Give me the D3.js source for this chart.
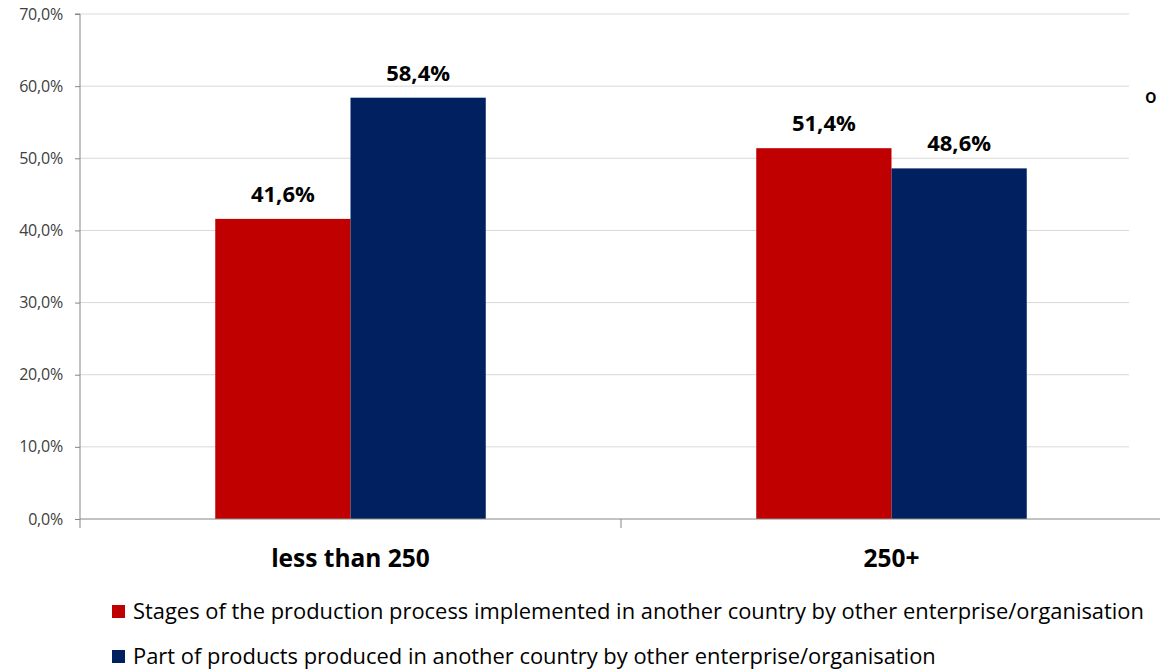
<!DOCTYPE html>
<html><head><meta charset="utf-8">
<script src="https://cdn.jsdelivr.net/npm/d3@7"></script>
<style>body{margin:0;background:#fff}svg{display:block}text{font-family:"Open Sans",sans-serif}</style>
</head><body>
<svg id="c" width="1160" height="671"></svg>
<script>
const categories = ["less than 250", "250+"];
const seriesNames = [
  "Stages of the production process implemented in another country by other enterprise/organisation",
  "Part of products produced in another country by other enterprise/organisation"
];
const stagesValues = [41.6, 51.4];
const partValues = [58.4, 48.6];
const yTicks = [0, 10, 20, 30, 40, 50, 60, 70];
const colors = ["#C00000", "#002060"];

const svg = d3.select("#c");
const pLeft = 80, pRight = 1162, pTop = 14, pBottom = 519;
const x = d3.scaleBand().domain(categories).range([pLeft, pRight]);
const y = d3.scaleLinear().domain([0, 70]).range([pBottom, pTop]);
const inner = d3.scaleBand().domain([0, 1]).range([0, x.bandwidth()]).paddingOuter(1).paddingInner(0);

// gridlines
svg.append("g").selectAll("line").data(yTicks.filter(d => d > 0)).join("line")
  .attr("x1", pLeft).attr("x2", 1129).attr("y1", d => y(d)).attr("y2", d => y(d))
  .attr("stroke", "#d9d9d9").attr("stroke-width", 1);

// y axis
const yAxis = d3.axisLeft(y).tickValues(yTicks).tickSize(5).tickFormat(d => d3.format(".1f")(d).replace(".", ",") + "%");
const gy = svg.append("g").attr("transform", `translate(${pLeft},0)`).call(yAxis);
gy.select(".domain").attr("stroke", "#868686").attr("d", `M-5,${pTop}H0V${pBottom + 9}`);
gy.selectAll(".tick line").attr("stroke", "#868686");
gy.selectAll(".tick text").attr("fill", "#404040").attr("font-size", 16).attr("x", -17)
  .style("font-family", "'Open Sans',sans-serif").attr("letter-spacing", -0.2);

// bars
const data = categories.map((c, i) => ({cat: c, vals: [stagesValues[i], partValues[i]]}));
const groups = svg.append("g").selectAll("g").data(data).join("g")
  .attr("transform", d => `translate(${x(d.cat)},0)`);
groups.selectAll("rect").data(d => d.vals.map((v, j) => ({v, j}))).join("rect")
  .attr("x", d => inner(d.j)).attr("width", inner.bandwidth())
  .attr("y", d => y(d.v)).attr("height", d => y(0) - y(d.v))
  .attr("fill", d => colors[d.j]);
groups.selectAll("text").data(d => d.vals.map((v, j) => ({v, j}))).join("text")
  .attr("x", d => inner(d.j) + inner.bandwidth() / 2).attr("y", d => y(d.v) - 17)
  .attr("text-anchor", "middle").attr("font-size", 22).attr("font-weight", "bold").attr("fill", "#000")
  .text(d => d3.format(".1f")(d.v).replace(".", ",") + "%");

// x axis
svg.append("line").attr("x1", pLeft).attr("x2", 1160).attr("y1", pBottom).attr("y2", pBottom)
  .attr("stroke", "#868686");
svg.append("g").selectAll("line").data(categories.slice(1)).join("line")
  .attr("x1", d => x(d)).attr("x2", d => x(d)).attr("y1", pBottom).attr("y2", pBottom + 9)
  .attr("stroke", "#868686");
svg.append("g").selectAll("text").data(categories).join("text")
  .attr("x", d => x(d) + x.bandwidth() / 2).attr("y", 567)
  .attr("text-anchor", "middle").attr("font-size", 24.5).attr("font-weight", "bold").attr("fill", "#000")
  .text(d => d);

// stray title fragment
svg.append("text").attr("x", 1145).attr("y", 103).attr("font-size", 19).attr("font-weight", 600).attr("fill", "#000").text("o");

// legend
const lg = svg.append("g").selectAll("g").data(seriesNames).join("g")
  .attr("transform", (d, i) => `translate(112,${612 + i * 45})`);
lg.append("rect").attr("x", 0).attr("y", -7).attr("width", 13).attr("height", 13).attr("fill", (d, i) => colors[i]);
lg.append("text").attr("x", 21).attr("y", 7).attr("font-size", 21.9).attr("fill", "#000").text(d => d);
</script>
</body></html>
